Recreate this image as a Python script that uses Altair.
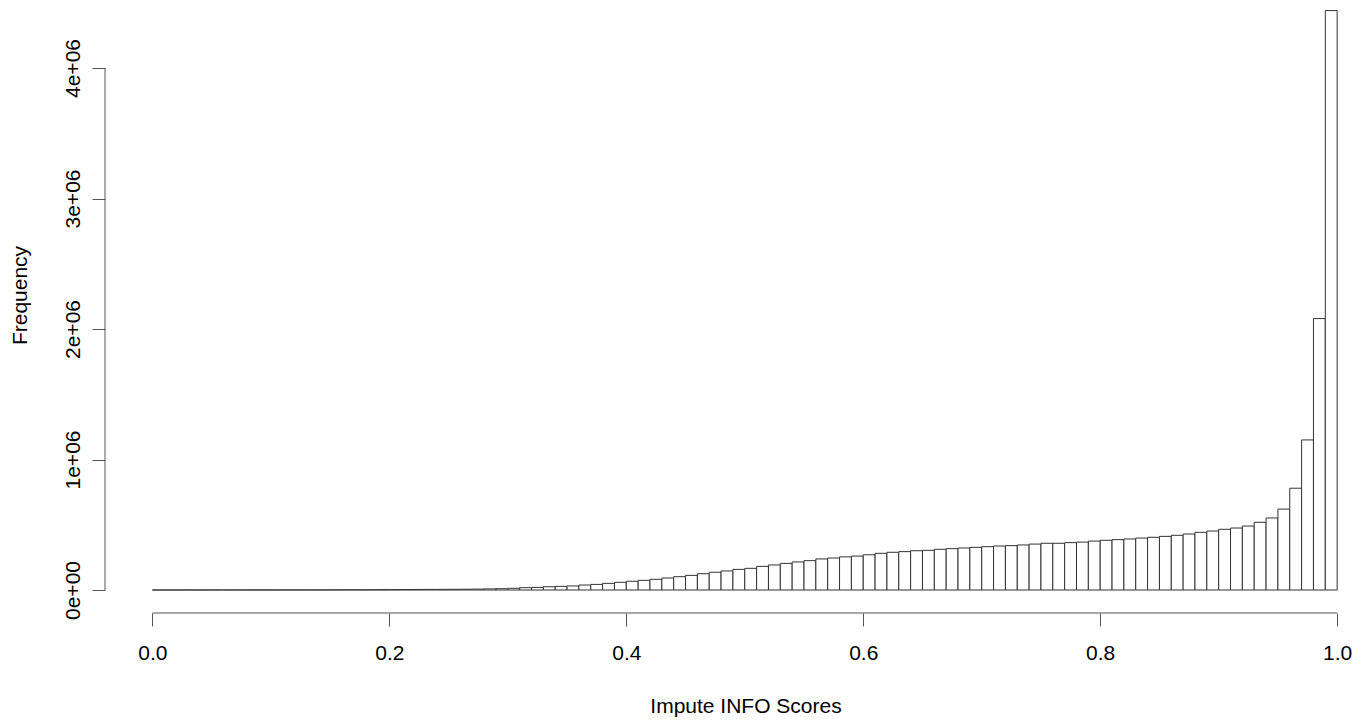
import altair as alt
import pandas as pd

# Histogram of impute INFO scores: 100 bins of width 0.01 on [0, 1]
bin_width = 0.01
counts = [
    200, 150, 180, 220, 260, 300, 350, 400, 450, 520,
    600, 700, 800, 950, 1100, 1300, 1500, 1800, 2100, 2500,
    3000, 3500, 4200, 4600, 5000, 5500, 6000, 7000, 8500, 10000,
    13000, 18000, 20000, 25000, 28000, 31000, 38000, 43000, 51000, 59000,
    67000, 74000, 82000, 92000, 102000, 112000, 125000, 136000, 146000, 158000,
    166000, 181000, 192000, 204000, 215000, 225000, 238000, 245000, 254000, 260000,
    270000, 281000, 289000, 294000, 301000, 304000, 312000, 317000, 322000, 327000,
    332000, 337000, 340000, 345000, 352000, 358000, 358000, 363000, 367000, 375000,
    381000, 386000, 391000, 398000, 404000, 411000, 419000, 429000, 442000, 452000,
    465000, 475000, 490000, 519000, 552000, 620000, 780000, 1150000, 2080000, 4440000,
]
x_ticks = [0.0, 0.2, 0.4, 0.6, 0.8, 1.0]
y_ticks = [0, 1000000, 2000000, 3000000, 4000000]

df = pd.DataFrame({
    "lo": [round(i * bin_width, 2) for i in range(len(counts))],
    "hi": [round((i + 1) * bin_width, 2) for i in range(len(counts))],
    "count": counts,
})

FONT = "Liberation Sans"
W, H = 1244, 605

xscale = alt.Scale(domain=[-0.04, 1.01], nice=False, zero=False)
yscale = alt.Scale(domain=[-176200, 4459800], nice=False, zero=False)

xaxis = alt.Axis(
    values=x_ticks, format=".1f", domain=False, grid=False,
    tickSize=13, tickColor="#555555", tickWidth=1,
    labelFont=FONT, labelFontSize=21, labelColor="black",
    labelBaseline="alphabetic", labelPadding=33,
    title="Impute INFO Scores", titleFont=FONT, titleFontSize=21,
    titleFontWeight="normal", titleColor="black",
    titleX=640.5, titleY=99, titleBaseline="alphabetic", titleAlign="center",
)
yaxis = alt.Axis(
    values=y_ticks, domain=False, grid=False,
    labelExpr="datum.value == 0 ? '0e+00' : format(datum.value / 1000000, 'd') + 'e+06'",
    tickSize=13, tickColor="#555555", tickWidth=1,
    labelFont=FONT, labelFontSize=21, labelColor="black",
    labelAngle=-90, labelAlign="center", labelBaseline="alphabetic", labelPadding=13,
    title="Frequency", titleFont=FONT, titleFontSize=21,
    titleFontWeight="normal", titleColor="black", titleAngle=-90,
    titleX=-79, titleY=287, titleBaseline="alphabetic", titleAlign="center",
)

bars = alt.Chart(df).mark_rect(
    fill="white", stroke="#333333", strokeWidth=1
).encode(
    x=alt.X("lo:Q", scale=xscale, axis=xaxis),
    x2="hi:Q",
    y=alt.Y("count:Q", scale=yscale, axis=yaxis),
    y2=alt.datum(0),
)

axis_df = pd.DataFrame({"a": [0]})
xline = alt.Chart(axis_df).mark_rule(color="#555555", strokeWidth=1).encode(
    x=alt.datum(0.0), x2=alt.datum(1.0), y=alt.value(H)
)
yline = alt.Chart(axis_df).mark_rule(color="#555555", strokeWidth=1).encode(
    x=alt.value(0), y=alt.datum(0), y2=alt.datum(4000000)
)

chart = alt.layer(bars, xline, yline).properties(
    width=W, height=H,
    autosize=alt.AutoSizeParams(type="none"),
    padding={"left": 97, "top": 0, "right": 10, "bottom": 108},
    background="white",
).configure_view(stroke=None)

chart.save("out.html", embed_options={"renderer": "svg", "actions": False})
